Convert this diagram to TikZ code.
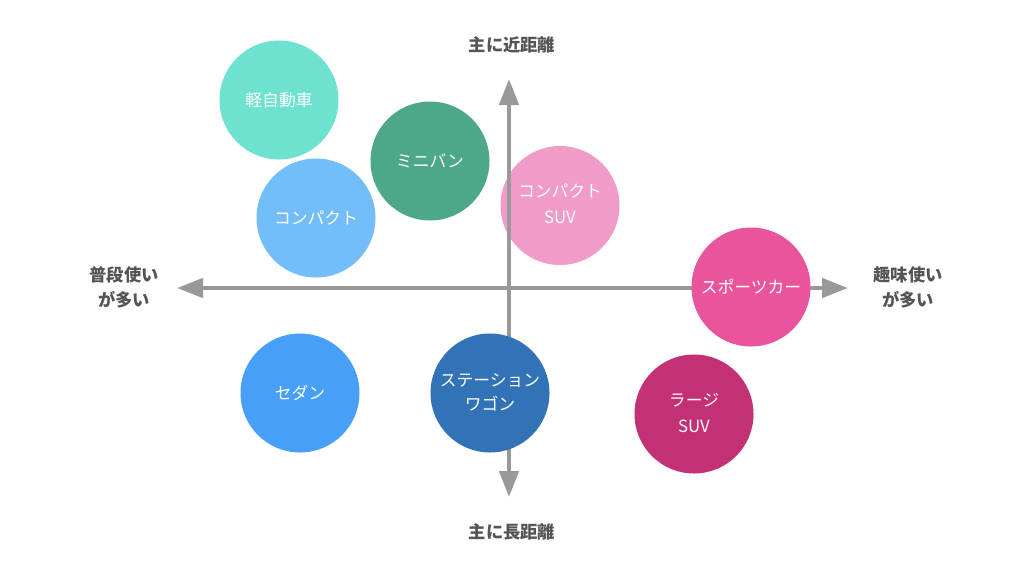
\documentclass[tikz,border=0pt]{standalone}
\usepackage{fontspec}
\setmainfont{Noto Sans CJK JP}
\usetikzlibrary{arrows.meta}
\definecolor{kei}{HTML}{6DE2CF}
\definecolor{mini}{HTML}{4DA88A}
\definecolor{comp}{HTML}{73BDF8}
\definecolor{csuv}{HTML}{F19BC8}
\definecolor{sport}{HTML}{EA549D}
\definecolor{lsuv}{HTML}{C33073}
\definecolor{sedan}{HTML}{479FF8}
\definecolor{wagon}{HTML}{3273B7}
\definecolor{axisgray}{HTML}{999999}
\definecolor{labelgray}{HTML}{555555}
\tikzset{
  car/.style={circle, minimum size=119pt, inner sep=0pt, text=white, align=center,
    font=\fontsize{16.8}{25}\selectfont},
  axislabel/.style={text=labelgray, align=center, font=\fontsize{17.3}{25}\selectfont\bfseries},
  axisline/.style={line width=4.5pt, draw=axisgray, -{Triangle[length=26pt,width=19pt]}}
}
\begin{document}
\begin{tikzpicture}[x=1pt,y=-1pt]
\useasboundingbox[fill=white] (0,0) rectangle (1024,576);
% drawn beneath the axis
\node[car, fill=csuv] (csuv) at (560,205.5) {\raisebox{3pt}{\begin{tabular}{@{}c@{}}コンパクト\\[1pt]SUV\end{tabular}}};
% axes
\coordinate (o) at (509,288);
\coordinate (top) at (509,79);
\coordinate (bottom) at (509,497);
\coordinate (left) at (177,288);
\coordinate (right) at (848,288);
\draw[axisline] (o) -- (top);
\draw[axisline] (o) -- (bottom);
\draw[axisline] (o) -- (left);
\draw[axisline] (o) -- (right);
% circles
\node[car, fill=kei] (kei) at (279,100) {軽自動車};
\node[car, fill=mini] (mini) at (430,161) {ミニバン};
\node[car, fill=comp] (comp) at (316,218) {コンパクト};
\node[car, fill=sport] (sport) at (751,287) {スポーツカー};
\node[car, fill=sedan] (sedan) at (300,393) {セダン};
\node[car, fill=wagon] (wagon) at (490,393) {\raisebox{2pt}{\begin{tabular}{@{}c@{}}ステーション\\[-1pt]ワゴン\end{tabular}}};
\node[car, fill=lsuv] (lsuv) at (694,414) {\raisebox{3pt}{\begin{tabular}{@{}c@{}}ラージ\\[1pt]SUV\end{tabular}}};
% labels
\node[axislabel] (near) at (512,45) {主に近距離};
\node[axislabel] (far) at (512,532) {主に長距離};
\node[axislabel] (daily) at (124,287) {普段使い\\が多い};
\node[axislabel] (hobby) at (908,287) {趣味使い\\が多い};
\end{tikzpicture}
\end{document}
